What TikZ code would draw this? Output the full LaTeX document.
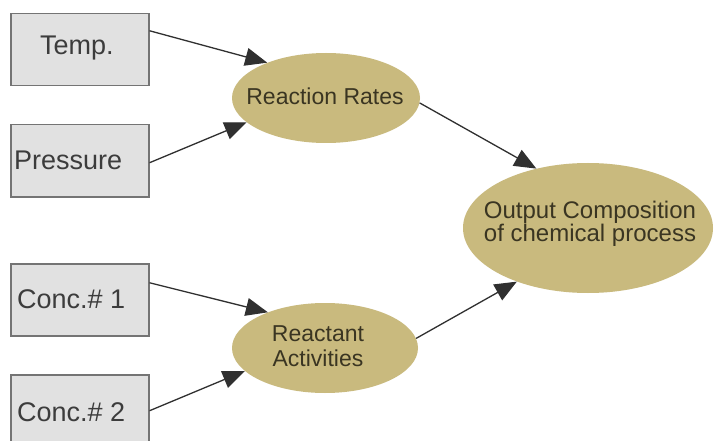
\documentclass[tikz,border=0pt]{standalone}
\usepackage{fontspec}
\setmainfont{Liberation Sans}
\usetikzlibrary{shapes.geometric,arrows.meta}
\definecolor{boxfill}{HTML}{E1E1E1}
\definecolor{boxline}{HTML}{747474}
\definecolor{boxtext}{HTML}{3C3C3C}
\definecolor{khaki}{HTML}{C9BA7E}
\definecolor{elltext}{HTML}{3A3522}
\definecolor{arrline}{HTML}{303030}
\tikzset{
  inbox/.style={draw=boxline, line width=1.5pt, fill=boxfill, rectangle, minimum width=138pt, minimum height=72pt, inner sep=0pt, anchor=north west},
  boxlabel/.style={text=boxtext, anchor=west, inner sep=0pt, font=\fontsize{27}{30}\selectfont},
  blob/.style={ellipse, fill=khaki, inner sep=0pt},
  blobtext/.style={text=elltext, align=center, inner sep=0pt},
  conn/.style={draw=arrline, line width=1.3pt, -{Triangle[length=22pt,width=18pt]}}
}
\begin{document}
\begin{tikzpicture}[x=1pt,y=-1pt]
\useasboundingbox (0,0) rectangle (715,441);
\clip (0,0) rectangle (715,441);
\fill[white] (0,0) rectangle (715,441);
% boxes
\node[inbox] (temp) at (10,13) {};
\node[inbox] (press) at (10,124) {};
\node[inbox] (conc1) at (10,263) {};
\node[inbox, minimum height=90pt] (conc2) at (10,374) {};
\node[boxlabel] (ttemp) at (40,48) {Temp.};
\node[boxlabel] (tpress) at (14,160) {Pressure};
\node[boxlabel] (tconc1) at (17,299) {Conc.\# 1};
\node[boxlabel] (tconc2) at (17,412) {Conc.\# 2};
% ellipses
\node[blob, minimum width=188pt, minimum height=90pt] (rr) at (326,98) {};
\node[blob, minimum width=186pt, minimum height=90pt] (ra) at (325,348) {};
\node[blob, minimum width=250pt, minimum height=130pt] (out) at (588,228) {};
\node[blobtext, font=\fontsize{23}{26}\selectfont] (trr) at (325,96) {Reaction Rates};
\node[blobtext, font=\fontsize{23}{25}\selectfont] (tra) at (318,346) {Reactant\\Activities};
\node[blobtext, font=\fontsize{24}{22.5}\selectfont] (tout) at (590,224) {Output Composition\\of chemical process};
% connectors
\draw[conn] ([yshift=19pt]temp.east) -- (rr.149);
\draw[conn] ([yshift=-2pt]press.east) -- (rr.197);
\draw[conn] ([yshift=17pt]conc1.east) -- (ra.148);
\draw[conn] ([yshift=9pt]conc2.east) -- (ra.196);
\draw[conn] (rr.-3) -- (out.131);
\draw[conn] (ra.6) -- (out.217);
\end{tikzpicture}
\end{document}
